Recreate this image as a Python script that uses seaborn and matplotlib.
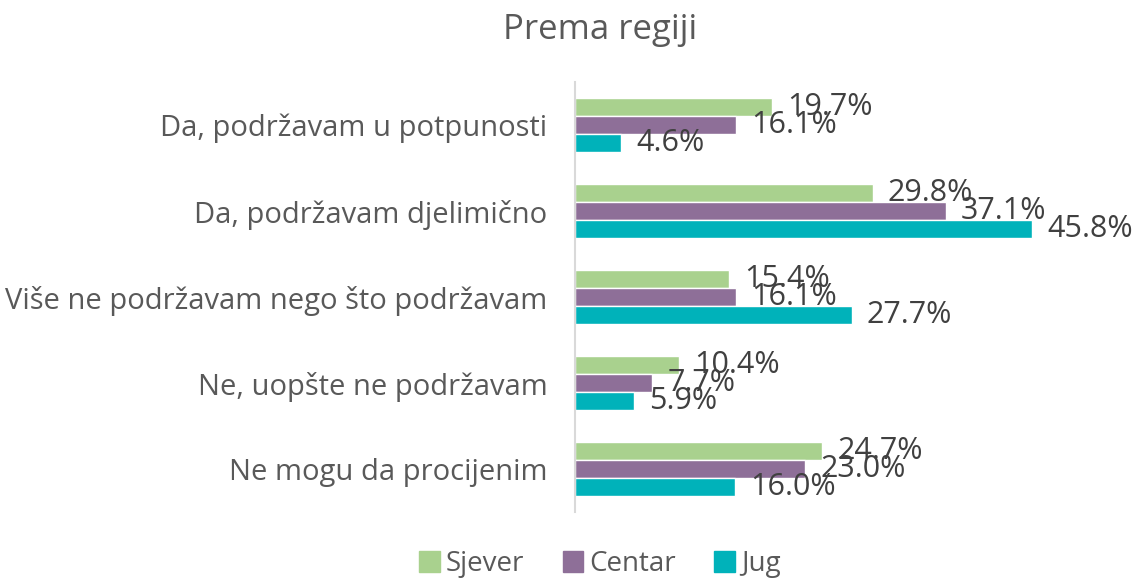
import pandas as pd
import matplotlib.pyplot as plt
import seaborn as sns

# podaci
categories = ['Da, podržavam u potpunosti', 'Da, podržavam djelimično',
              'Više ne podržavam nego što podržavam', 'Ne, uopšte ne podržavam',
              'Ne mogu da procijenim']
regions = ['Sjever', 'Centar', 'Jug']
sjever = [19.7, 29.8, 15.4, 10.4, 24.7]
centar = [16.1, 37.1, 16.1, 7.7, 23.0]
jug = [4.6, 45.8, 27.7, 5.9, 16.0]
colors = ['#A9D18E', '#8E6F98', '#00B2BA']

sns.set_theme(style='white')
plt.rcParams['font.family'] = ['Open Sans', 'DejaVu Sans']

df = pd.DataFrame({
    'kategorija': categories * 3,
    'regija': [r for r in regions for _ in categories],
    'vrijednost': sjever + centar + jug,
})

fig = plt.figure(figsize=(11.38, 5.8), dpi=100)
ax = fig.add_axes([0.5053, 0.1172, 0.488, 0.7414])

sns.barplot(data=df, y='kategorija', x='vrijednost', hue='regija',
            order=categories, hue_order=regions, palette=colors,
            orient='h', width=0.63, ax=ax, legend=False, saturation=1)

for cont in ax.containers:
    ax.bar_label(cont, fmt='%.1f%%', padding=11, fontsize=22, color='#404040')

ax.set_xlim(0, 55.6)
ax.set_ylim(4.5, -0.5)
ax.set_xlabel('')
ax.set_ylabel('')
ax.set_xticks([])
ax.tick_params(axis='y', length=0, pad=20, labelsize=21, labelcolor='#595959')
for s in ['top', 'right', 'bottom']:
    ax.spines[s].set_visible(False)
ax.spines['left'].set_color('#D9D9D9')
ax.spines['left'].set_linewidth(1.5)

fig.text(0.527, 0.948, 'Prema regiji', ha='center', va='center',
         fontsize=25, color='#595959')

handles = [plt.Rectangle((0, 0), 1, 1, color=c) for c in colors]
fig.legend(handles, regions, loc='lower center', bbox_to_anchor=(0.527, -0.04),
           ncol=3, frameon=False, fontsize=20, handlelength=0.75, handleheight=0.75,
           handletextpad=0.2, columnspacing=1.4, labelcolor='#595959')

fig.savefig('out.png', dpi=100)
